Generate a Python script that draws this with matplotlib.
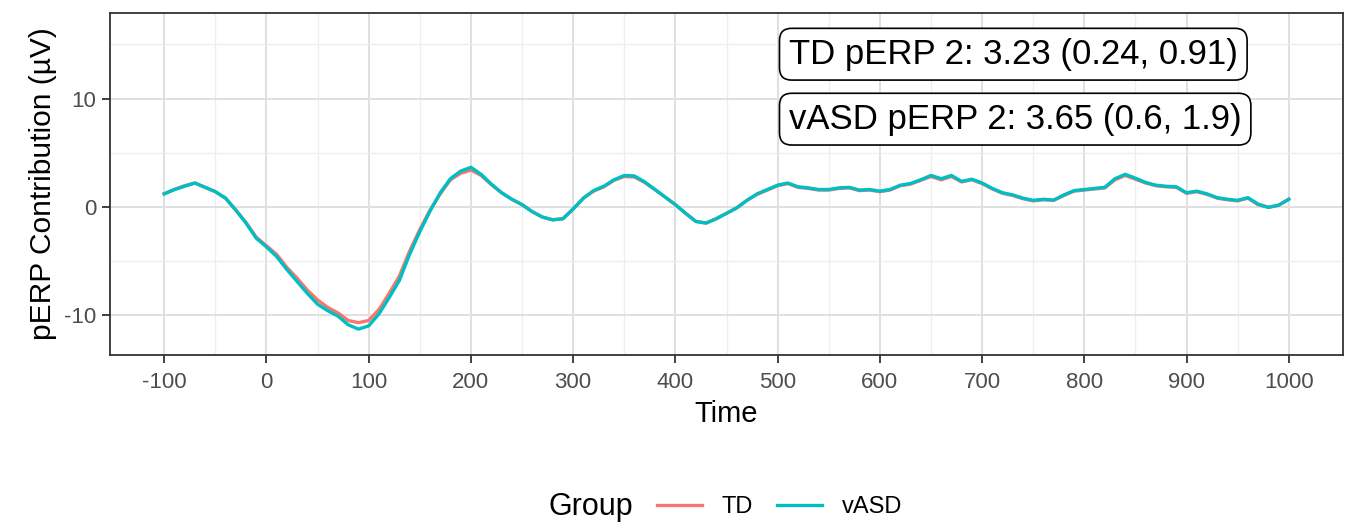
import numpy as np
import matplotlib.pyplot as plt
from matplotlib.lines import Line2D

plt.rcParams['font.family'] = ['Liberation Sans', 'DejaVu Sans']
plt.rcParams['axes.unicode_minus'] = False

# Tiempo (ms) y contribución de cada grupo (µV)
time = np.arange(-100, 1001, 10)

vasd = [1.2, 1.6, 1.9, 2.2, 1.8, 1.4, 0.8, -0.3, -1.5, -2.9,
        -3.7, -4.6, -5.8, -6.9, -8.0, -9.0, -9.6, -10.1, -10.9, -11.3,
        -11.0, -9.9, -8.4, -6.8, -4.4, -2.3, -0.4, 1.3, 2.6, 3.3,
        3.65, 3.0, 2.1, 1.3, 0.7, 0.2, -0.45, -0.95, -1.2, -1.1,
        -0.2, 0.8, 1.5, 1.9, 2.5, 2.9, 2.85, 2.3, 1.6, 0.9,
        0.2, -0.6, -1.35, -1.5, -1.1, -0.6, -0.1, 0.6, 1.2, 1.6,
        2.0, 2.2, 1.85, 1.75, 1.6, 1.6, 1.75, 1.8, 1.55, 1.6,
        1.45, 1.6, 2.0, 2.15, 2.5, 2.9, 2.6, 2.9, 2.35, 2.55,
        2.2, 1.7, 1.3, 1.1, 0.8, 0.6, 0.7, 0.62, 1.1, 1.5,
        1.6, 1.7, 1.8, 2.6, 3.0, 2.65, 2.25, 2.0, 1.9, 1.85,
        1.3, 1.45, 1.2, 0.85, 0.7, 0.6, 0.85, 0.25, -0.05, 0.15,
        0.7]

td = [1.2, 1.6, 1.95, 2.2, 1.8, 1.4, 0.8, -0.3, -1.45, -2.8,
      -3.6, -4.4, -5.6, -6.6, -7.7, -8.6, -9.3, -9.8, -10.5, -10.7,
      -10.5, -9.5, -8.0, -6.4, -4.1, -2.1, -0.3, 1.2, 2.5, 3.1,
      3.4, 2.9, 2.05, 1.3, 0.7, 0.2, -0.45, -0.95, -1.2, -1.1,
      -0.2, 0.8, 1.45, 1.85, 2.45, 2.8, 2.75, 2.25, 1.6, 0.9,
      0.2, -0.6, -1.35, -1.5, -1.1, -0.6, -0.1, 0.6, 1.15, 1.55,
      1.95, 2.15, 1.8, 1.7, 1.55, 1.55, 1.7, 1.75, 1.5, 1.55,
      1.4, 1.55, 1.95, 2.1, 2.45, 2.8, 2.5, 2.8, 2.3, 2.5,
      2.15, 1.65, 1.25, 1.05, 0.75, 0.55, 0.65, 0.6, 1.05, 1.45,
      1.55, 1.65, 1.75, 2.5, 2.9, 2.55, 2.2, 1.95, 1.85, 1.8,
      1.25, 1.4, 1.15, 0.8, 0.65, 0.55, 0.8, 0.2, -0.05, 0.15,
      0.7]

groups = ['TD', 'vASD']
colors = ['#F8766D', '#00BFC4']
labels = ['TD pERP 2: 3.23 (0.24, 0.91)', 'vASD pERP 2: 3.65 (0.6, 1.9)']
label_y = [14.1, 8.1]

fig = plt.figure(figsize=(13.5, 5.23), dpi=100)
ax = fig.add_axes([0.0815, 0.321, 0.9133, 0.654])

ax.plot(time, td, color=colors[0], lw=2.4, zorder=3)
ax.plot(time, vasd, color=colors[1], lw=2.4, zorder=4)

for txt, yy in zip(labels, label_y):
    ax.text(511, yy, txt, fontsize=25, ha='left', va='center', zorder=5,
            bbox=dict(boxstyle='round,pad=0.27,rounding_size=0.35',
                      fc='white', ec='black', lw=1.2))

ax.set_xlim(-153, 1053)
ax.set_ylim(-13.7, 17.9)
ax.set_xticks(np.arange(-100, 1001, 100))
ax.set_xticks(np.arange(-50, 1001, 100), minor=True)
ax.set_yticks([-10, 0, 10])
ax.set_yticks([-5, 5, 15], minor=True)
ax.grid(which='major', color='#E0E0E0', lw=1.4)
ax.grid(which='minor', color='#EEEEEE', lw=0.9)
ax.set_axisbelow(True)
ax.tick_params(which='major', length=6, width=1.3, color='#333333',
               labelsize=16, labelcolor='#4D4D4D', pad=4)
ax.tick_params(axis='x', which='major', pad=6)
ax.tick_params(which='minor', length=0)
for s in ax.spines.values():
    s.set_color('#333333')
    s.set_linewidth(1.3)

ax.set_xlabel('Time', fontsize=21, labelpad=5)
ax.set_ylabel('pERP Contribution (µV)', fontsize=21.5, labelpad=5)

# Leyenda horizontal bajo el gráfico
fig.text(548 / 1350, 1 - 507 / 523, 'Group', fontsize=22, ha='left', va='center')
handles = [Line2D([], [], color=c, lw=2.4) for c in colors]
fig.legend(handles, groups, loc='center left', bbox_to_anchor=(657 / 1350, 1 - 507 / 523),
           ncol=2, frameon=False, fontsize=17, handlelength=1.9,
           handletextpad=0.85, columnspacing=1.0, borderpad=0, borderaxespad=0)

fig.savefig('out.png', dpi=100)
